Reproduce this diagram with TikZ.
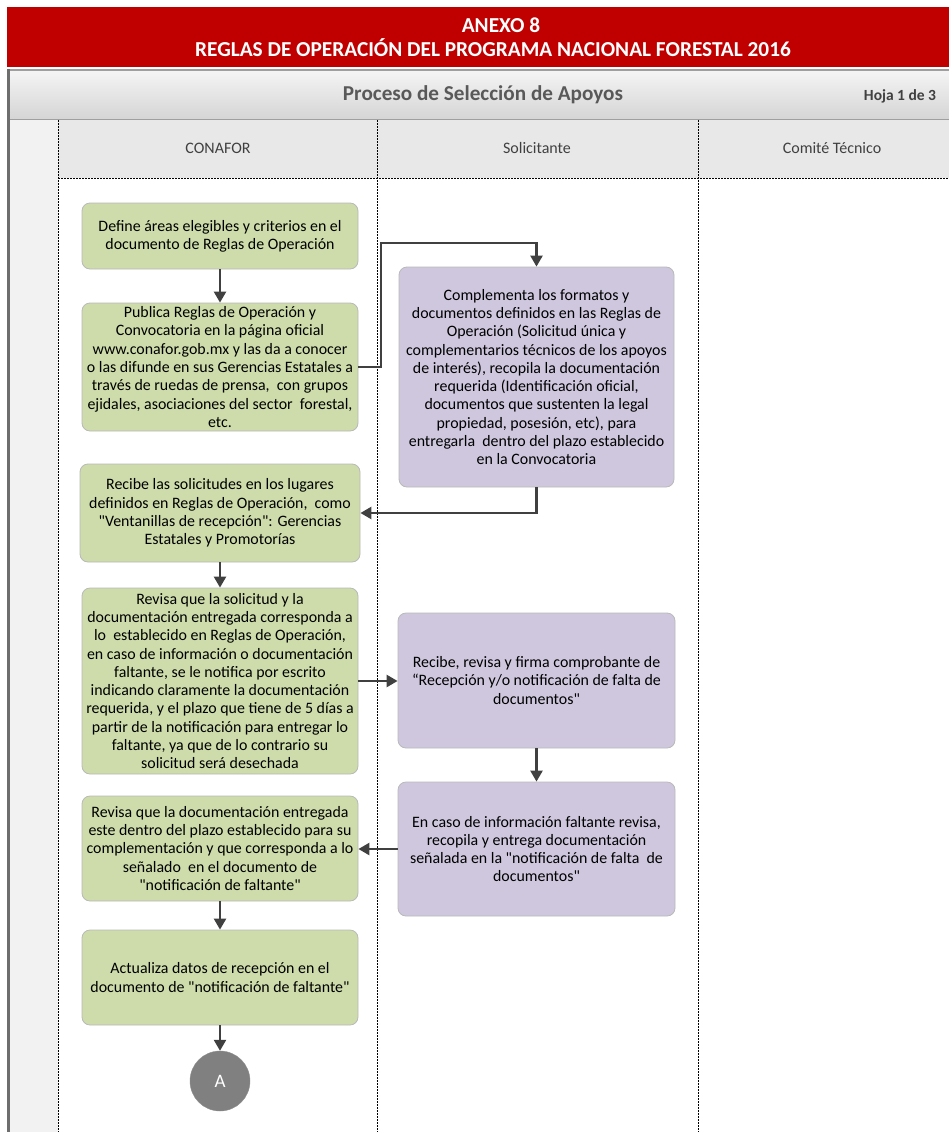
\documentclass[tikz,border=0pt]{standalone}
\usepackage{fontspec}
\setmainfont{Carlito}[Ligatures=TeXOff]
\usetikzlibrary{arrows.meta,calc}
\definecolor{hdrred}{RGB}{192,0,0}
\definecolor{boxgreen}{RGB}{205,220,170}
\definecolor{boxpurple}{RGB}{207,199,222}
\definecolor{boxline}{RGB}{185,185,185}
\definecolor{arrgray}{RGB}{64,64,64}
\definecolor{lanehdr}{RGB}{232,232,232}
\definecolor{margin}{RGB}{242,242,242}
\definecolor{frame}{RGB}{110,110,110}
\definecolor{circgray}{RGB}{128,128,128}
\tikzset{
  boxtext/.style={font=\fontsize{15.9}{18.3}\selectfont, align=center, text=black},
  gbox/.style={boxtext, rectangle, rounded corners=8pt, fill=boxgreen, draw=boxline, line width=0.8pt, inner sep=1pt},
  pbox/.style={boxtext, rectangle, rounded corners=8pt, fill=boxpurple, draw=boxline, line width=0.8pt, inner sep=1pt},
  arr/.style={draw=arrgray, line width=2.4pt, -{Triangle[width=12pt,length=11pt]}},
  lane/.style={draw=black, line width=0.7pt, dash pattern=on 2pt off 1pt},
  lanelabel/.style={font=\fontsize{16}{18}\selectfont, text=arrgray},
}
\begin{document}
\begin{tikzpicture}[x=1pt,y=-1pt]
\useasboundingbox (0,0) rectangle (949,1132);
% red header
\fill[hdrred] (7,7) rectangle (949,67);
\node[text=white, font=\bfseries\fontsize{21.3}{23}\selectfont] (t1) at (501,25) {ANEXO 8};
\node[text=white, font=\bfseries\fontsize{21.3}{23}\selectfont] (t2) at (493,48) {REGLAS DE OPERACIÓN DEL PROGRAMA NACIONAL FORESTAL 2016};
% frame and title band
\shade[top color=gray!8, bottom color=gray!33] (8,70) rectangle (949,119);
\draw[gray!75, line width=1.5pt] (8,70) -- (949,70);
\draw[gray!75, line width=1.2pt] (8,119.5) -- (949,119.5);
\node[font=\bfseries\fontsize{21.2}{23}\selectfont, text=black!65] (title) at (483,95) {Proceso de Selección de Apoyos};
\node[font=\bfseries\fontsize{15.5}{17}\selectfont, text=black!75] (hoja) at (900,96) {Hoja 1 de 3};
% lane header row and margin
\fill[margin] (8,120) rectangle (58,1132);
\fill[lanehdr] (58,120) rectangle (949,178);
\draw[lane] (58,178) -- (949,178);
\draw[lane] (58,120) -- (58,1132);
\draw[lane] (377,120) -- (377,1132);
\draw[lane] (698,120) -- (698,1132);
\draw[frame, line width=3pt] (8.5,69) -- (8.5,1132);
\node[lanelabel] (l1) at (218,148) {CONAFOR};
\node[lanelabel] (l2) at (537,148) {Solicitante};
\node[lanelabel] (l3) at (832,148) {Comité Técnico};
% CONAFOR boxes
\node[gbox, minimum width=276pt, minimum height=66pt] (g1) at (220,236) {Define áreas elegibles y criterios en el\\documento de Reglas de Operación};
\node[gbox, minimum width=276pt, minimum height=128pt] (g2) at (220,367) {Publica Reglas de Operación y\\Convocatoria en la página oficial\\www.conafor.gob.mx y las da a conocer\\o las difunde en sus Gerencias Estatales a\\través de ruedas de prensa,\ \ con grupos\\ejidales, asociaciones del sector\ \ forestal,\\etc.};
\node[gbox, minimum width=280pt, minimum height=98pt] (g3) at (220,513) {Recibe las solicitudes en los lugares\\definidos en Reglas de Operación,\ \ como\\"Ventanillas de recepción": Gerencias\\Estatales y Promotorías};
\node[gbox, minimum width=276pt, minimum height=186pt] (g4) at (220,681) {Revisa que la solicitud y la\\documentación entregada corresponda a\\lo\ \ establecido en Reglas de Operación,\\en caso de información o documentación\\faltante, se le notifica por escrito\\indicando claramente la documentación\\requerida, y el plazo que tiene de 5 días a\\partir de la notificación para entregar lo\\faltante, ya que de lo contrario su\\solicitud será desechada};
\node[gbox, minimum width=276pt, minimum height=105pt] (g5) at (220,848.5) {Revisa que la documentación entregada\\este dentro del plazo establecido para su\\complementación y que corresponda a lo\\señalado\ \ en el documento de\\"notificación de faltante"};
\node[gbox, minimum width=276pt, minimum height=95pt] (g6) at (220,977.5) {Actualiza datos de recepción en el\\documento de "notificación de faltante"};
\node[circle, fill=circgray, draw=circgray!90, minimum size=60pt, inner sep=0pt, text=white, font=\fontsize{19}{21}\selectfont] (a) at (220,1081) {A};
% Solicitante boxes
\node[pbox, minimum width=275pt, minimum height=220pt] (p1) at (536.5,377) {Complementa los formatos y\\documentos definidos en las Reglas de\\Operación (Solicitud única y\\complementarios técnicos de los apoyos\\de interés), recopila la documentación\\requerida (Identificación oficial,\\documentos que sustenten la legal\\propiedad, posesión, etc), para\\entregarla\ \ dentro del plazo establecido\\en la Convocatoria};
\node[pbox, minimum width=277pt, minimum height=135pt] (p2) at (536.5,680.5) {Recibe, revisa y firma comprobante de\\“Recepción y/o notificación de falta de\\documentos"};
\node[pbox, minimum width=277pt, minimum height=134pt] (p3) at (536.5,849) {En caso de información faltante revisa,\\recopila y entrega documentación\\señalada en la "notificación de falta\ \ de\\documentos"};
% connectors
\coordinate (j1) at (381,243);
\draw[arr] (g1.south) -- (g2.north);
\draw[arr] (g2.east) -| (j1) -| (p1.north);
\draw[arr] (p1.south) |- (g3.east);
\draw[arr] (g3.south) -- (g4.north);
\draw[arr] (g4.east) -- (g4.east -| p2.west);
\draw[arr] (p2.south) -- (p3.north);
\draw[arr] (p3.west) -- (p3.west -| g5.east);
\draw[arr] (g5.south) -- (g6.north);
\draw[arr] (g6.south) -- (a.north);
\end{tikzpicture}
\end{document}
